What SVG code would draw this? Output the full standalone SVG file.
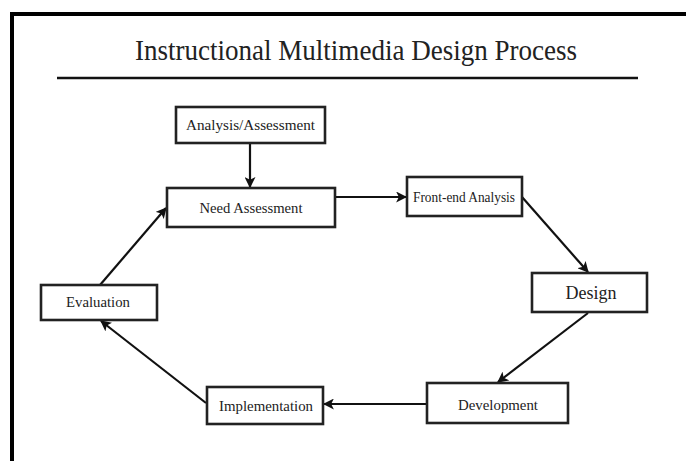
<svg xmlns="http://www.w3.org/2000/svg" width="686" height="461" viewBox="0 0 686 461">
<defs>
<marker id="ah" viewBox="0 0 10 10" refX="9" refY="5" markerWidth="11" markerHeight="11" markerUnits="userSpaceOnUse" orient="auto">
<path d="M0,0 L10,5 L0,10 L2.5,5 z" fill="#111"/>
</marker>
<style>
.box{fill:#fff;stroke:#222;stroke-width:2.6}
.lbl{font-family:"Liberation Serif","Times New Roman",serif;fill:#222;text-anchor:middle}
.con{stroke:#111;stroke-width:2.2;fill:none;marker-end:url(#ah)}
</style>
</defs>
<rect x="0" y="0" width="686" height="461" fill="#fff"/>
<path d="M12,461 L12,14 L686,14" fill="none" stroke="#000" stroke-width="4"/>
<g id="title">
<text x="356" y="60" class="lbl" font-size="30" textLength="442" lengthAdjust="spacingAndGlyphs">Instructional Multimedia Design Process</text>
<line x1="57" y1="78" x2="638" y2="78" stroke="#111" stroke-width="2.5"/>
</g>
<g id="connectors">
<line class="con" x1="250" y1="143" x2="250" y2="187"/>
<line class="con" x1="335" y1="197" x2="406" y2="197"/>
<line class="con" x1="522" y1="197" x2="588" y2="272"/>
<line class="con" x1="588" y1="313" x2="498" y2="382"/>
<line class="con" x1="427" y1="404" x2="324" y2="404"/>
<line class="con" x1="206" y1="403" x2="101" y2="321"/>
<line class="con" x1="100" y1="285" x2="166" y2="208"/>
</g>
<g id="analysis">
<rect class="box" x="176" y="107" width="149" height="36"/>
<text class="lbl" x="250.5" y="130" font-size="14.5" textLength="129" lengthAdjust="spacingAndGlyphs">Analysis/Assessment</text>
</g>
<g id="need">
<rect class="box" x="167" y="188" width="168" height="39"/>
<text class="lbl" x="251" y="213" font-size="15.5" textLength="103" lengthAdjust="spacingAndGlyphs">Need Assessment</text>
</g>
<g id="frontend">
<rect class="box" x="407" y="177" width="115" height="39"/>
<text class="lbl" x="464" y="202" font-size="14" textLength="102" lengthAdjust="spacingAndGlyphs">Front-end Analysis</text>
</g>
<g id="design">
<rect class="box" x="532" y="273" width="115" height="39"/>
<text class="lbl" x="591" y="299" font-size="19" textLength="51" lengthAdjust="spacingAndGlyphs">Design</text>
</g>
<g id="development">
<rect class="box" x="427" y="383" width="141" height="40"/>
<text class="lbl" x="498" y="410" font-size="15.5" textLength="80" lengthAdjust="spacingAndGlyphs">Development</text>
</g>
<g id="implementation">
<rect class="box" x="207" y="387" width="116" height="37"/>
<text class="lbl" x="266" y="411" font-size="15.5" textLength="94" lengthAdjust="spacingAndGlyphs">Implementation</text>
</g>
<g id="evaluation">
<rect class="box" x="41" y="285" width="116" height="35"/>
<text class="lbl" x="98" y="307" font-size="14.5" textLength="64" lengthAdjust="spacingAndGlyphs">Evaluation</text>
</g>
</svg>
